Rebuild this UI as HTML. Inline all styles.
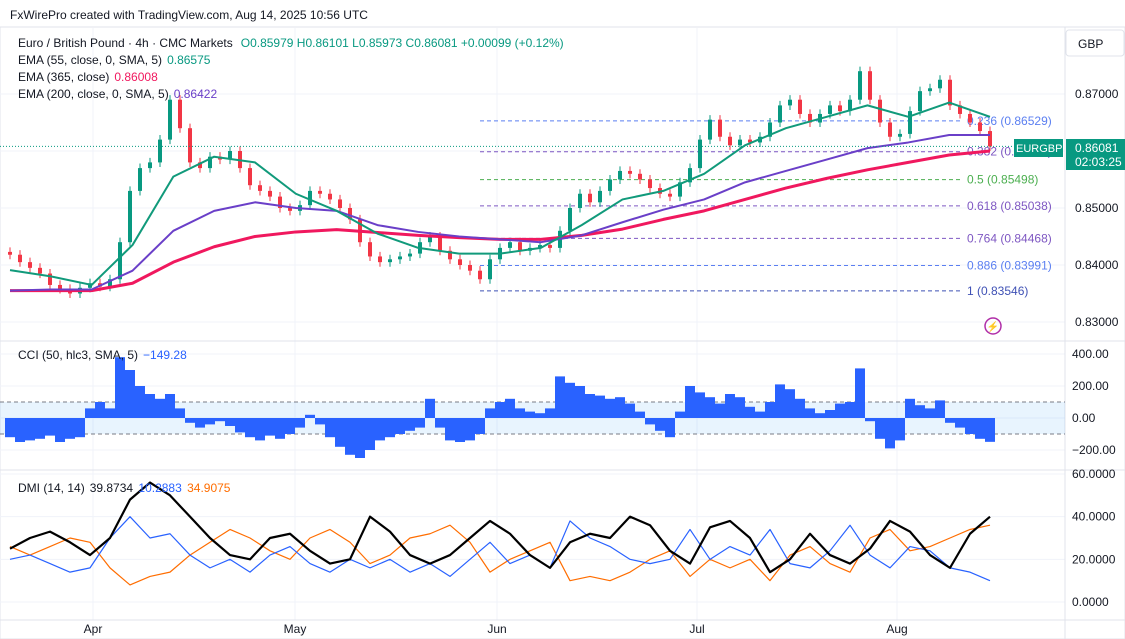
<!DOCTYPE html>
<html><head><meta charset="utf-8"><style>
body{margin:0;background:#fff;font-family:"Liberation Sans",sans-serif;}
#wrap{position:relative;width:1125px;height:639px;overflow:hidden}
svg text{font-family:"Liberation Sans",sans-serif}
</style></head><body><div id="wrap">
<svg id="c" width="1125" height="639"></svg>
</div>
<script>
// ---- data ----
const closes=[.8418,.8405,.8395,.8385,.8365,.8358,.8350,.8360,.8368,.8362,.8375,.8440,.8530,.8570,.8580,.8620,.8690,.8640,.8580,.8570,.8590,.8585,.8600,.8570,.8540,.8530,.8520,.8500,.8495,.8505,.8530,.8525,.8515,.8500,.8480,.8440,.8415,.8405,.8410,.8415,.8420,.8440,.8450,.8425,.8410,.8400,.8390,.8375,.8410,.8430,.8440,.8425,.8430,.8435,.8430,.8460,.8500,.8525,.8510,.8530,.8550,.8565,.8560,.8550,.8535,.8525,.8520,.8545,.8570,.8620,.8655,.8625,.8610,.8620,.8615,.8625,.8650,.8680,.8690,.8665,.8650,.8665,.8680,.8670,.8690,.8740,.8690,.8650,.8625,.8630,.8670,.8705,.8710,.8725,.8680,.8665,.8650,.8635,.8608];
const ema55=[.8391,.8380,.8365,.8435,.8555,.8590,.8580,.8525,.8495,.8455,.8430,.8420,.8420,.8430,.8470,.8515,.8530,.8560,.8610,.8640,.8660,.8680,.8660,.8685,.8660];
const ema200=[.8355,.8357,.8357,.8390,.8460,.8495,.8510,.8500,.8495,.8470,.8458,.8450,.8445,.8440,.8452,.8475,.8497,.8515,.8545,.8565,.8585,.8605,.8615,.8628,.8628];
const ema365=[.8355,.8355,.8355,.8368,.8405,.8432,.8450,.8458,.8462,.8457,.8452,.8448,.8445,.8445,.8452,.8463,.8480,.8495,.8515,.8535,.8552,.8567,.8580,.8593,.8600];
const cci=[-120,-150,-140,-130,-110,-150,-130,-120,60,100,60,380,300,200,150,120,150,60,-30,-60,-40,-20,-50,-90,-120,-140,-110,-130,-100,-60,20,-40,-120,-180,-230,-250,-200,-140,-120,-100,-80,-60,120,-60,-140,-150,-140,-100,60,100,120,60,40,30,60,260,220,200,150,140,120,130,90,40,-40,-80,-120,40,200,160,130,90,150,130,70,40,100,210,180,120,60,30,50,90,100,310,-20,-130,-190,-140,120,80,60,110,-30,-60,-100,-130,-149];
const adx=[25,30,33,28,22,30,48,56,50,40,30,22,20,30,32,24,18,20,40,33,22,18,22,30,38,32,22,16,28,32,30,40,36,24,18,35,38,30,14,20,32,22,18,25,38,33,22,16,32,40];
const diPlus=[20,22,18,14,16,30,40,30,32,22,16,20,14,22,26,18,14,20,16,20,14,18,12,20,28,18,22,16,38,30,26,20,18,20,34,20,26,22,34,18,16,24,36,22,16,26,24,16,14,10];
const diMinus=[26,22,26,30,28,16,8,12,14,22,28,34,30,24,20,30,34,28,18,22,30,32,36,28,14,20,24,28,10,12,10,14,20,24,12,20,16,20,10,22,26,18,14,30,34,24,26,30,34,36];
const fibRatios=["0.236","0.382","0.5","0.618","0.764","0.886","1"];
const fibPrices=[0.86529,0.85987,0.85498,0.85038,0.84468,0.83991,0.83546];
const priceTicks=[0.87,0.86,0.85,0.84,0.83];
const cciTicks=[400,200,0,-200];
const dmiTicks=[60,40,20,0];
const months=["Apr","May","Jun","Jul","Aug"];
const monthIdx=[8.3,28.5,48.7,68.7,88.7];
// ---- scales ----
const X0=10,XS=10,XE=990;
const xi=i=>X0+i*XS;
const xl=(i,n)=>X0+i*(XE-X0)/(n-1);
const py=p=>94+(0.87-p)*5700;
const cy=v=>418-v*0.16;
const dy=v=>602-v*2.133;
const svg=document.getElementById('c');
const NS='http://www.w3.org/2000/svg';
function mk(t,a,parent){const e=document.createElementNS(NS,t);for(const k in a)e.setAttribute(k,a[k]);(parent||svg).appendChild(e);return e;}
function txt(x,y,s,fill,size,anchor){const e=mk('text',{x:x,y:y,fill:fill,'font-size':size||12,'text-anchor':anchor||'start'});e.textContent=s;return e;}
function after(el,s,fill,gap){const b=el.getBBox();return txt(b.x+b.width+(gap||5),+el.getAttribute('y'),s,fill,+el.getAttribute('font-size'));}
let e;
e=mk('rect',{x:0,y:27,width:1125,height:612,fill:'#fff',stroke:'#e0e3eb'});

monthIdx.forEach(m=>{mk('line',{x1:xi(m),x2:xi(m),y1:28,y2:620,stroke:'#f0f3fa'});});
priceTicks.forEach(p=>mk('line',{x1:0,x2:1065,y1:py(p),y2:py(p),stroke:'#f0f3fa'}));
cciTicks.forEach(v=>mk('line',{x1:0,x2:1065,y1:cy(v),y2:cy(v),stroke:'#f0f3fa'}));
dmiTicks.forEach(v=>mk('line',{x1:0,x2:1065,y1:dy(v),y2:dy(v),stroke:'#f0f3fa'}));
mk('line',{x1:1065,x2:1065,y1:27,y2:639,stroke:'#e0e3eb'});
mk('line',{x1:0,x2:1125,y1:341,y2:341,stroke:'#e0e3eb'});
mk('line',{x1:0,x2:1125,y1:470,y2:470,stroke:'#e0e3eb'});
mk('line',{x1:0,x2:1125,y1:620,y2:620,stroke:'#e0e3eb'});
e=txt(10,19,'FxWirePro created with TradingView.com, Aug 14, 2025 10:56 UTC','#131722',12);

fibPrices.forEach((p,i)=>{
 const col=i==2?'#4caf50':(i==1||i==3||i==4?'#7e57c2':(i==6?'#3f51b5':'#5b7ff1'));
 const l=mk('line',{x1:480,x2:960,y1:py(p),y2:py(p),stroke:col,'stroke-dasharray':'4 3'});
 
 const t=txt(967,py(p)+4,fibRatios[i]+' ('+p.toFixed(5)+')',col,12);
 
});
closes.forEach((c,i)=>{
 const o=i?closes[i-1]:c+0.0005;const up=c>=o;const col=up?'#089981':'#f23645';
 const hi=Math.max(o,c)+0.0008,lo=Math.min(o,c)-0.0008;
 const g=mk('g',{});
 
 mk('line',{x1:xi(i),x2:xi(i),y1:py(hi),y2:py(lo),stroke:col},g);
 const h=Math.max(1,Math.abs(py(o)-py(c)));
 mk('rect',{x:xi(i)-2,y:Math.min(py(o),py(c)),width:4,height:h,fill:col},g);
});
function line(arr,xf,yf,col,w,name){const pts=arr.map((v,i)=>xf(i,arr.length)+','+yf(v)).join(' ');
 const l=mk('polyline',{points:pts,fill:'none',stroke:col,'stroke-width':w,'stroke-linejoin':'round'});
 }
line(ema365,xl,py,'#f0185e',3,'ema-365-line');
line(ema200,xl,py,'#6a3fc8',2,'ema-200-line');
line(ema55,xl,py,'#119a7b',2,'ema-55-line');
mk('line',{x1:0,x2:1065,y1:py(0.86081),y2:py(0.86081),stroke:'#089981','stroke-dasharray':'1 2'});
// legend
e=txt(18,47,'Euro / British Pound · 4h · CMC Markets','#131722',12);

after(e,'O0.85979  H0.86101  L0.85973  C0.86081  +0.00099 (+0.12%)','#089981',8);
e=txt(18,64,'EMA (55, close, 0, SMA, 5)','#131722',12);after(e,'0.86575','#089981');
e=txt(18,81,'EMA (365, close)','#131722',12);after(e,'0.86008','#f0185e');
e=txt(18,98,'EMA (200, close, 0, SMA, 5)','#131722',12);after(e,'0.86422','#6a3fc8');
priceTicks.forEach(p=>txt(1075,py(p)+4,p.toFixed(5),'#131722',12));
e=mk('rect',{x:1066,y:30,width:58,height:26,fill:'#fff',stroke:'#e0e3eb',rx:3});
txt(1078,48,'GBP','#131722',12);
e=mk('rect',{x:1014,y:139,width:49,height:18,fill:'#089981'});

txt(1016,152,'EURGBP','#fff',11);
e=mk('rect',{x:1066,y:139,width:59,height:31,fill:'#089981'});

txt(1075,152,'0.86081','#fff',12);txt(1075,166,'02:03:25','#fff',12);
e=mk('circle',{cx:993,cy:326,r:8,fill:'none',stroke:'#b02ea8','stroke-width':1.5});

txt(993,330,'⚡','#b02ea8',10,'middle');
// CCI
mk('rect',{x:0,y:cy(100),width:1065,height:cy(-100)-cy(100),fill:'rgba(33,150,243,0.1)'});
[100,-100].forEach(v=>mk('line',{x1:0,x2:1065,y1:cy(v),y2:cy(v),stroke:'#787b86','stroke-dasharray':'4 3'}));
cci.forEach((v,i)=>{const r=mk('rect',{x:xi(i)-5,y:Math.min(cy(0),cy(v)),width:10,height:Math.abs(cy(v)-cy(0)),fill:'#2962ff'});
 });
e=txt(18,359,'CCI (50, hlc3, SMA, 5)','#131722',12);after(e,'−149.28','#2962ff');
cciTicks.forEach(v=>txt(1072,cy(v)+4,(v<0?'−':'')+Math.abs(v).toFixed(2),'#131722',12));
// DMI
line(diMinus,xl,dy,'#ff6d00',1.2,'di-minus-line');
line(diPlus,xl,dy,'#2962ff',1.2,'di-plus-line');
line(adx,xl,dy,'#000',2.2,'adx-line');
e=txt(18,492,'DMI (14, 14)','#131722',12);
e=after(e,'39.8734','#131722');e=after(e,'10.2883','#2962ff');after(e,'34.9075','#ff6d00');
dmiTicks.forEach(v=>txt(1072,dy(v)+4,v.toFixed(4),'#131722',12));
months.forEach((m,i)=>{const t=txt(xi(monthIdx[i]),633,m,'#131722',12,'middle');
 });
</script></body></html>
